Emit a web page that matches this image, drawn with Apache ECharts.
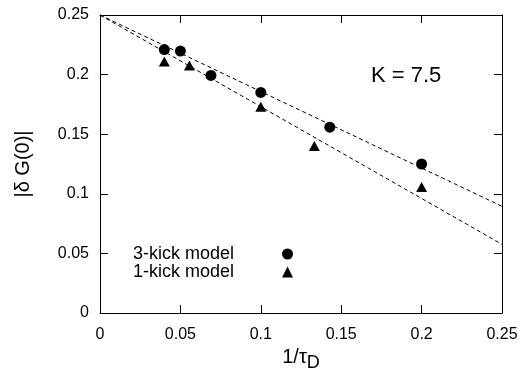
<!DOCTYPE html>
<html>
<head>
<meta charset="utf-8">
<script src="https://cdn.jsdelivr.net/npm/echarts@6/dist/echarts.min.js"></script>
<style>html,body{margin:0;padding:0;background:#fff;}#c{width:521px;height:369px;}</style>
</head>
<body>
<div id="c"></div>
<script>
// Data
var kick3X = [0.04, 0.05, 0.069, 0.1, 0.1429, 0.2];
var kick3Y = [0.221, 0.2197, 0.1993, 0.185, 0.1559, 0.125];
var kick1X = [0.04, 0.0556, 0.1, 0.1333, 0.2];
var kick1Y = [0.211, 0.2077, 0.173, 0.140, 0.1057];
var fitX = [0, 0.25];
var fit3Y = [0.25, 0.0895];
var fit1Y = [0.25, 0.0576];
var seriesNames = ['3-kick model', '1-kick model'];
var annotation = 'K = 7.5';
var xTicks = [0, 0.05, 0.1, 0.15, 0.2, 0.25];
var yTicks = [0, 0.05, 0.1, 0.15, 0.2, 0.25];

function pairs(xs, ys) { return xs.map(function (x, i) { return [x, ys[i]]; }); }

var FONT = '"Liberation Sans", Arial, Helvetica, sans-serif';
var chart = echarts.init(document.getElementById('c'), null, {renderer: 'canvas'});

function axisBase(pos, showLabel, ticks) {
  return {
    type: 'value', min: ticks[0], max: ticks[ticks.length - 1], interval: ticks[1] - ticks[0], position: pos,
    axisLine: {show: true, onZero: false, lineStyle: {color: '#000', width: 1}},
    axisTick: {show: true, inside: true, length: 8, lineStyle: {color: '#000', width: 1}},
    splitLine: {show: false},
    axisLabel: {show: showLabel, color: '#000', fontSize: 16, fontFamily: FONT,
      formatter: function (v) { return String(+v.toFixed(2)); }}
  };
}

var xMain = axisBase('bottom', true, xTicks);
xMain.axisLabel.margin = 14;
xMain.name = '1/τ{sub|D}';
xMain.nameLocation = 'middle';
xMain.nameGap = 21;
xMain.nameTextStyle = {color: '#000', fontSize: 20, fontFamily: FONT,
  rich: {sub: {fontSize: 18, fontFamily: FONT, color: '#000', padding: [11, 0, 0, 0]}}};
var xTop = axisBase('top', false, xTicks);
var yMain = axisBase('left', true, yTicks);
yMain.axisLabel.margin = 11;
yMain.name = '|δ G(0)|';
yMain.nameLocation = 'middle';
yMain.nameGap = 67;
yMain.nameTextStyle = {color: '#000', fontSize: 20, fontFamily: FONT};
var yRight = axisBase('right', false, yTicks);

chart.setOption({
  animation: false,
  backgroundColor: '#fff',
  grid: {left: 100, top: 15, width: 402, height: 298, containLabel: false, outerBoundsMode: 'none'},
  title: {text: annotation, left: 371, top: 65, padding: 0,
    textStyle: {fontSize: 22, fontWeight: 'normal', color: '#000', fontFamily: FONT}},
  legend: {
    data: seriesNames, orient: 'vertical', align: 'right', left: 128, top: 240,
    itemWidth: 11, itemHeight: 11, itemGap: 0, padding: 5,
    textStyle: {fontSize: 18, color: '#000', fontFamily: FONT, lineHeight: 17, padding: [0, 43, 0, 0]},
    inactiveColor: '#000', selectedMode: false
  },
  xAxis: [xMain, xTop],
  yAxis: [yMain, yRight],
  series: [
    {name: 'fit3', type: 'line', data: pairs(fitX, fit3Y), showSymbol: false, symbol: 'none',
      lineStyle: {color: '#000', width: 1, type: [4, 3]}, silent: true, z: 1},
    {name: 'fit1', type: 'line', data: pairs(fitX, fit1Y), showSymbol: false, symbol: 'none',
      lineStyle: {color: '#000', width: 1, type: [4, 3]}, silent: true, z: 1},
    {name: seriesNames[0], type: 'scatter', data: pairs(kick3X, kick3Y), symbol: 'circle', symbolSize: 11,
      itemStyle: {color: '#000', opacity: 1}, z: 3},
    {name: seriesNames[1], type: 'scatter', data: pairs(kick1X, kick1Y), symbol: 'triangle', symbolSize: [11, 10],
      itemStyle: {color: '#000', opacity: 1}, z: 3}
  ]
});
</script>
</body>
</html>
